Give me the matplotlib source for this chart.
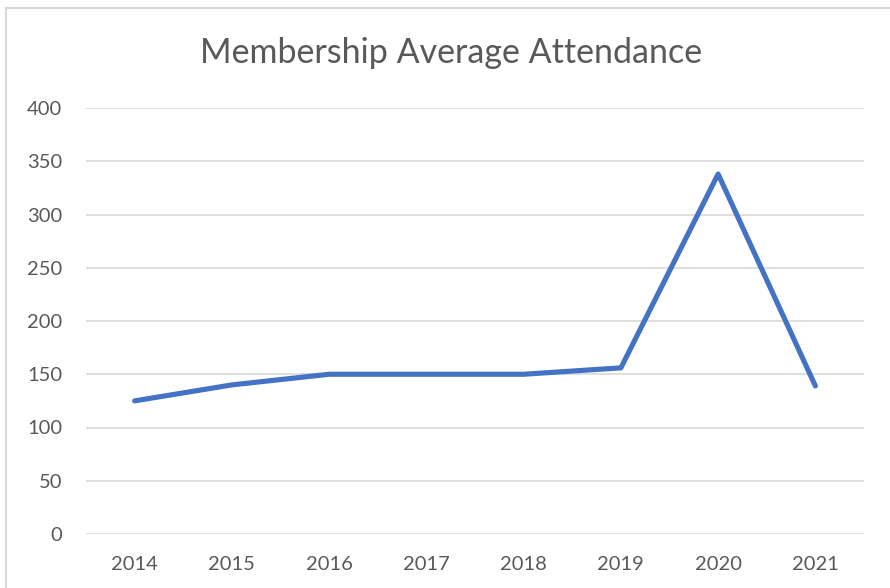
import matplotlib
matplotlib.use("Agg")
import matplotlib.pyplot as plt
from matplotlib.patches import Rectangle

years = ["2014", "2015", "2016", "2017", "2018", "2019", "2020", "2021"]
attendance = [125, 140, 150, 150, 150, 156, 338, 139]
y_ticks = [0, 50, 100, 150, 200, 250, 300, 350, 400]

plt.rcParams['font.family'] = ['Lato', 'DejaVu Sans']
W, H = 890, 588
fig = plt.figure(figsize=(W / 100, H / 100), dpi=100)
fig.patch.set_facecolor('white')

# outer chart border (extends beyond right/bottom edges)
fig.add_artist(Rectangle((6 / W, -0.05), 1.2, 1 - 8 / H + 0.05, transform=fig.transFigure,
                         fill=False, edgecolor='#D9D9D9', linewidth=1.5))

ax = fig.add_axes([86 / W, 1 - 534 / H, (864 - 86) / W, (534 - 108) / H])
x = list(range(len(years)))
ax.plot(x, attendance, color='#4472C4', linewidth=3.7, solid_capstyle='round',
        solid_joinstyle='round', zorder=3)
ax.set_xlim(-0.5, len(years) - 0.5)
ax.set_ylim(0, 400)
ax.set_yticks(y_ticks)
ax.set_xticks(x)
ax.set_xticklabels(years)
ax.grid(axis='y', color='#D9D9D9', linewidth=1.2)
ax.set_axisbelow(True)
for s in ax.spines.values():
    s.set_visible(False)
ax.tick_params(length=0, labelsize=14.5, colors='#595959')
ax.tick_params(axis='y', pad=17)
ax.tick_params(axis='x', pad=16)
fig.text(451 / W, 1 - 53 / H, "Membership Average Attendance", ha='center', va='center',
         fontsize=24.5, color='#595959')

fig.savefig("out.png", dpi=100)
